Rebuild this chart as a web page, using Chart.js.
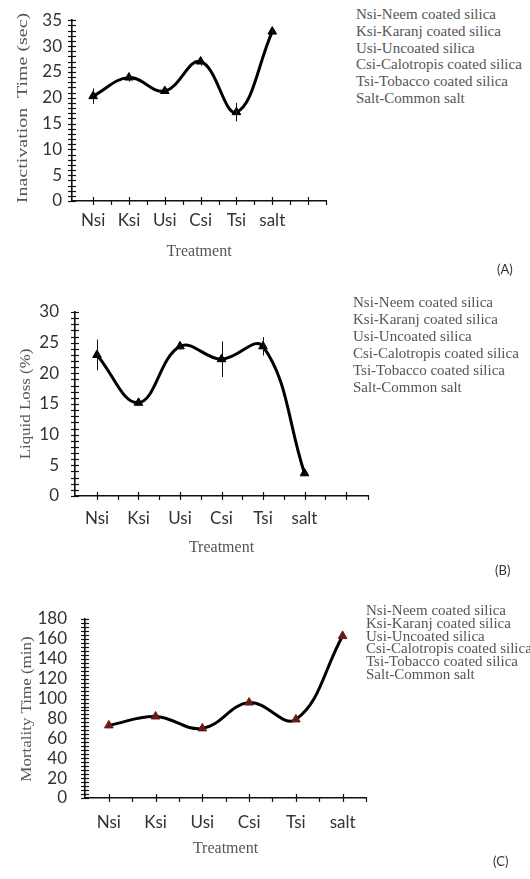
<!DOCTYPE html>
<html>
<head>
<meta charset="utf-8">
<script src="https://cdn.jsdelivr.net/npm/chart.js@4.4.1/dist/chart.umd.min.js"></script>
<style>
  body { margin: 0; background: #fff; width: 530px; height: 879px; position: relative; overflow: hidden; }
  canvas { position: absolute; left: 0; }
  .key { position: absolute; font-family: "Liberation Serif", serif; font-size: 15px; color: #555; white-space: nowrap; }
  .tag { position: absolute; font-family: Lato, sans-serif; font-size: 13px; color: #333; }
  .ytitle { position: absolute; font-family: "Liberation Serif", serif; font-size: 14px; color: #555; white-space: pre; line-height: 14px; }
</style>
</head>
<body>
<canvas id="chartA" width="345" height="270" style="top:0px"></canvas>
<canvas id="chartB" width="380" height="290" style="top:280px"></canvas>
<canvas id="chartC" width="380" height="290" style="top:580px"></canvas>

<div class="ytitle" data-cx="23" data-cy="108" data-len="190">Inactivation  Time (sec)</div>
<div class="ytitle" data-cx="26" data-cy="404" data-len="111">Liquid Loss (%)</div>
<div class="ytitle" data-cx="26" data-cy="709" data-len="145" style="font-size:15px">Mortality Time (min)</div>

<div class="key" style="left:356px; top:6px; line-height:16.8px">
  Nsi-Neem coated silica<br>Ksi-Karanj coated silica<br>Usi-Uncoated silica<br>Csi-Calotropis coated silica<br>Tsi-Tobacco coated silica<br>Salt-Common salt
</div>
<div class="key" style="left:353px; top:294px; line-height:17px">
  Nsi-Neem coated silica<br>Ksi-Karanj coated silica<br>Usi-Uncoated silica<br>Csi-Calotropis coated silica<br>Tsi-Tobacco coated silica<br>Salt-Common salt
</div>
<div class="key" style="left:366px; top:604px; line-height:12.8px">
  Nsi-Neem coated silica<br>Ksi-Karanj coated silica<br>Usi-Uncoated silica<br>Csi-Calotropis coated silica<br>Tsi-Tobacco coated silica<br>Salt-Common salt
</div>
<div class="tag" style="left:497px; top:261px">(A)</div>
<div class="tag" style="left:495px; top:562px">(B)</div>
<div class="tag" style="left:493px; top:853px">(C)</div>

<script>
// treatments on the x axis
const treatments = ['Nsi', 'Ksi', 'Usi', 'Csi', 'Tsi', 'salt'];

// (A) inactivation time, sec
const inactivationTime = [20.3, 23.9, 21.3, 27.0, 17.2, 32.8];
const inactivationErr = [1.5, 0.8, 0.5, 0.8, 1.8, 0.5];

// (B) liquid loss, %
const liquidLoss = [23.0, 15.2, 24.4, 22.3, 24.4, 3.7];
const liquidLossErr = [2.5, 0.5, 0.5, 2.9, 1.5, 0.3];

// (C) mortality time, min
const mortalityTime = [73, 82, 70, 96, 79, 163];

// rotated y titles, stretched along their length like in the scanned figure
document.querySelectorAll('.ytitle').forEach(el => {
  const k = +el.dataset.len / el.offsetWidth;
  el.style.left = el.dataset.cx + 'px';
  el.style.top = el.dataset.cy + 'px';
  el.style.transform = `translate(-50%, -50%) rotate(-90deg) scaleX(${k})`;
});

// draws the crossing tick marks and the error bars
const axisMarks = {
  id: 'axisMarks',
  afterDraw(chart) {
    const { ctx, scales: { x, y } } = chart;
    ctx.save();
    ctx.strokeStyle = '#111';
    ctx.lineWidth = 1.2;
    const seg = (x1, y1, x2, y2) => { ctx.beginPath(); ctx.moveTo(x1, y1); ctx.lineTo(x2, y2); ctx.stroke(); };
    y.ticks.forEach(t => {
      const py = Math.round(y.getPixelForValue(t.value)) + 0.5;
      seg(x.left - 4, py, x.left + 4, py);
    });
    x.ticks.forEach(t => {
      if (t.value < -0.01) return;
      const px = Math.round(x.getPixelForValue(t.value)) + 0.5;
      const major = Math.abs(t.value - Math.round(t.value)) < 0.01;
      seg(px, y.bottom + 4, px, major ? y.bottom - 4 : y.bottom);
    });
    ctx.lineWidth = 1;
    chart.data.datasets.forEach(ds => {
      if (!ds.errorBars) return;
      ds.data.forEach((p, i) => {
        const e = ds.errorBars[i];
        const px = Math.round(x.getPixelForValue(p.x)) + 0.5;
        seg(px, y.getPixelForValue(p.y - e), px, y.getPixelForValue(p.y + e));
      });
    });
    ctx.restore();
  }
};

function makePanel(id, cfg) {
  const tickFont = { family: 'Lato', size: 17 };
  new Chart(document.getElementById(id), {
    type: 'line',
    data: {
      datasets: [{
        data: cfg.values.map((v, i) => ({ x: i, y: v })),
        errorBars: cfg.errors,
        borderColor: '#000',
        borderWidth: 3,
        tension: 0.4,
        pointStyle: 'triangle',
        pointRadius: 5,
        pointBackgroundColor: cfg.markColor,
        pointBorderColor: cfg.markColor,
        pointBorderWidth: 1
      }]
    },
    options: {
      responsive: false,
      animation: false,
      layout: { padding: { top: cfg.padTop, right: cfg.padRight, left: 0, bottom: 0 } },
      plugins: { legend: { display: false }, tooltip: { enabled: false } },
      scales: {
        x: {
          type: 'linear',
          min: cfg.xMin,
          max: cfg.xMax,
          grid: { display: false, drawTicks: false },
          border: { display: true, color: '#111', width: 1.6 },
          ticks: {
            stepSize: 0.5,
            autoSkip: false,
            maxRotation: 0,
            minRotation: 0,
            padding: cfg.xLabelPad,
            color: '#333',
            font: tickFont,
            callback: v => {
              const r = Math.round(v);
              return Math.abs(v - r) < 0.01 && r >= 0 && r < treatments.length ? treatments[r] : '';
            }
          },
          title: {
            display: true,
            text: 'Treatment',
            color: '#555',
            font: { family: 'Liberation Serif', size: 16 },
            padding: { top: 0, bottom: cfg.xTitlePad }
          },
          afterFit: s => { s.height = cfg.xHeight; }
        },
        y: {
          min: 0,
          max: cfg.yMax,
          grid: { display: false, drawTicks: false },
          border: { display: true, color: '#111', width: 1.6 },
          ticks: {
            stepSize: cfg.yStep,
            autoSkip: false,
            padding: cfg.yLabelPad,
            color: '#333',
            font: tickFont,
            callback: v => (v % cfg.yLabelEvery === 0 ? v : '')
          },
          afterFit: s => { s.width = cfg.yWidth; }
        }
      }
    },
    plugins: [axisMarks]
  });
}

makePanel('chartA', {
  values: inactivationTime, errors: inactivationErr, markColor: '#000',
  xMin: -0.59, xMax: 6.5, yMax: 35, yStep: 1, yLabelEvery: 5,
  padTop: 16, padRight: 19, xHeight: 69, yWidth: 72,
  xLabelPad: 9, xTitlePad: 9, yLabelPad: 10
});

makePanel('chartB', {
  values: liquidLoss, errors: liquidLossErr, markColor: '#000',
  xMin: -0.53, xMax: 6.53, yMax: 30, yStep: 1, yLabelEvery: 5,
  padTop: 32, padRight: 12, xHeight: 74, yWidth: 75,
  xLabelPad: 12, xTitlePad: 13, yLabelPad: 16
});

makePanel('chartC', {
  values: mortalityTime, errors: null, markColor: '#6b1a1a',
  xMin: -0.51, xMax: 5.5, yMax: 180, yStep: 4, yLabelEvery: 20,
  padTop: 39, padRight: 13, xHeight: 72, yWidth: 85,
  xLabelPad: 14, xTitlePad: 12, yLabelPad: 18
});
</script>
</body>
</html>
